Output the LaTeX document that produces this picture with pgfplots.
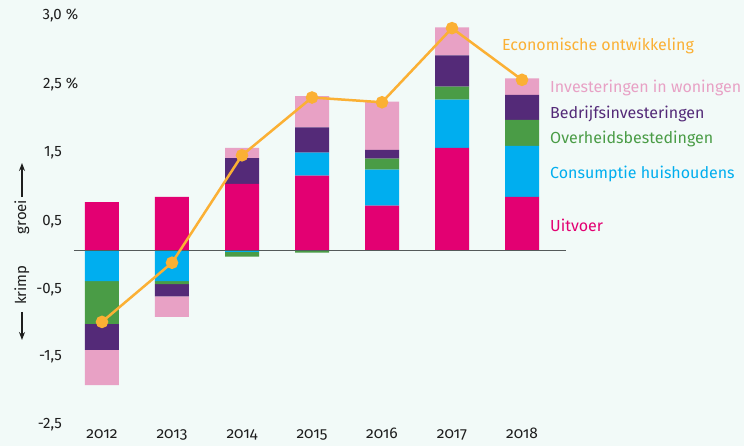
\documentclass[border=0pt]{standalone}
\usepackage{pgfplots}
\pgfplotsset{compat=1.18}
\usetikzlibrary{arrows.meta}
\usepackage{fontspec}
\setmainfont{Fira Sans}
\newfontfamily\osf{Fira Sans}[Numbers=OldStyle]
\definecolor{bg}{RGB}{242,250,248}
\definecolor{cUit}{RGB}{227,0,114}
\definecolor{cCons}{RGB}{0,174,239}
\definecolor{cOver}{RGB}{74,156,70}
\definecolor{cBed}{RGB}{84,42,120}
\definecolor{cWon}{RGB}{232,161,197}
\definecolor{cLine}{RGB}{251,176,52}
\definecolor{cZero}{RGB}{85,90,90}
\definecolor{cText}{RGB}{30,30,30}
\pgfplotsset{
  base/.style={
    scale only axis, width=744pt, height=446pt,
    xmin=-1.4571, xmax=9.1714, ymin=-2.875, ymax=3.684,
    axis line style={draw=none}, tick style={draw=none},
    clip=false,
  },
}
\begin{document}
\begin{tikzpicture}
% positive contributions
\begin{axis}[base, axis background/.style={fill=bg}, ybar stacked, bar width=34pt, xtick=\empty, ytick=\empty]
\addplot[fill=cUit, draw=none] coordinates {(0,0.71) (1,0.79) (2,0.98) (3,1.10) (4,0.66) (5,1.51) (6,0.79)};
\addplot[fill=cCons, draw=none] coordinates {(0,0) (1,0) (2,0) (3,0.34) (4,0.53) (5,0.71) (6,0.75)};
\addplot[fill=cOver, draw=none] coordinates {(0,0) (1,0) (2,0) (3,0) (4,0.16) (5,0.19) (6,0.38)};
\addplot[fill=cBed, draw=none] coordinates {(0,0) (1,0) (2,0.38) (3,0.37) (4,0.13) (5,0.46) (6,0.37)};
\addplot[fill=cWon, draw=none] coordinates {(0,0) (1,0) (2,0.15) (3,0.46) (4,0.71) (5,0.41) (6,0.24)};
\end{axis}
% negative contributions
\begin{axis}[base, ybar stacked, bar width=34pt, xtick=\empty, ytick=\empty]
\addplot[fill=cCons, draw=none] coordinates {(0,-0.45) (1,-0.45) (2,-0.02) (3,0) (4,0) (5,0) (6,0)};
\addplot[fill=cOver, draw=none] coordinates {(0,-0.63) (1,-0.045) (2,-0.07) (3,-0.03) (4,0) (5,0) (6,0)};
\addplot[fill=cBed, draw=none] coordinates {(0,-0.38) (1,-0.18) (2,0) (3,0) (4,0) (5,0) (6,0)};
\addplot[fill=cWon, draw=none] coordinates {(0,-0.52) (1,-0.30) (2,0) (3,0) (4,0) (5,0) (6,0)};
\end{axis}
% line, ticks, labels
\begin{axis}[base,
  xtick={0,1,2,3,4,5,6},
  xticklabels={2012,2013,2014,2015,2016,2017,2018},
  xticklabel style={anchor=base, yshift=7pt, inner sep=0pt, font=\osf\fontsize{15.5pt}{17pt}\selectfont, text=cText},
  ytick={3.463,2.449,1.434,0.419,-0.581,-1.566,-2.566},
  yticklabels={{3,0\rlap{ \%}},{2,5\rlap{ \%}},{1,5},{0,5},{-0,5},{-1,5},{-2,5}},
  yticklabel style={anchor=east, inner sep=0pt, xshift=62pt, font=\fontsize{15pt}{17pt}\selectfont, text=cText},
]
\draw[cZero, line width=1.5pt] (axis cs:-0.4,0) -- (axis cs:6.63,0);
\addplot[cLine, line width=2.5pt, mark=*, mark size=5pt, mark options={draw=none, fill=cLine}]
  coordinates {(0,-1.05) (1,-0.18) (2,1.40) (3,2.25) (4,2.18) (5,3.27) (6,2.51)};
\begin{scope}[every node/.style={anchor=base west, inner sep=0pt, font=\fontsize{16pt}{18pt}\selectfont}]
\node[text=cLine] at (axis cs:5.714,2.934) {Economische ontwikkeling};
\node[text=cWon] at (axis cs:6.4,2.326) {Investeringen in woningen};
\node[text=cBed] at (axis cs:6.4,1.944) {Bedrijfsinvesteringen};
\node[text=cOver] at (axis cs:6.4,1.576) {Overheidsbestedingen};
\node[text=cCons] at (axis cs:6.4,1.062) {Consumptie huishoudens};
\node[text=cUit] at (axis cs:6.4,0.276) {Uitvoer};
\end{scope}
\node[rotate=90, text=cText, font=\fontsize{15pt}{17pt}\selectfont] at (axis cs:-1.143,0.493) {groei};
\node[rotate=90, text=cText, font=\fontsize{15pt}{17pt}\selectfont] at (axis cs:-1.143,-0.507) {krimp};
\draw[cText, line width=1.2pt, -{Stealth[length=8pt,width=6pt]}] (axis cs:-1.143,0.786) -- (axis cs:-1.143,1.287);
\draw[cText, line width=1.2pt, -{Stealth[length=8pt,width=6pt]}] (axis cs:-1.143,-0.904) -- (axis cs:-1.143,-1.316);
\end{axis}
\end{tikzpicture}
\end{document}
